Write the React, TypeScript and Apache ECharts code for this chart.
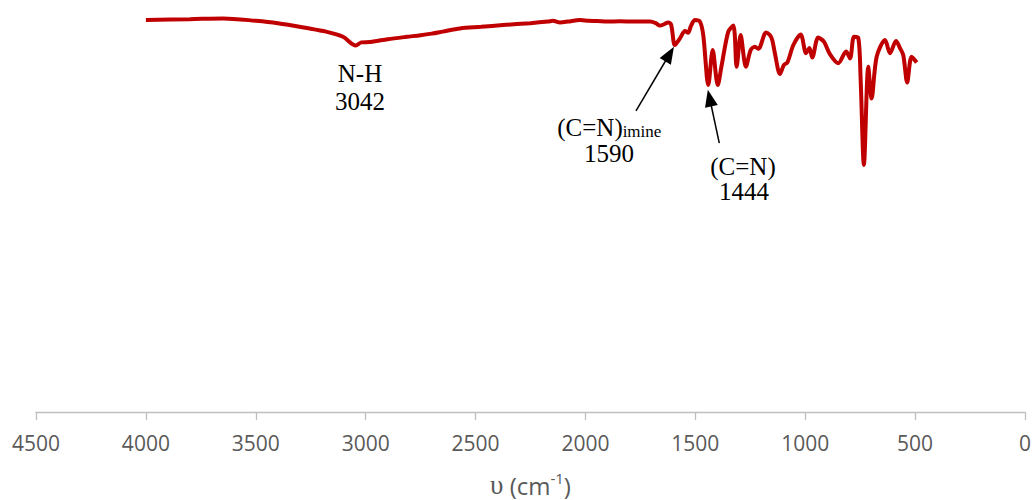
import React, { useEffect, useRef } from "react";
import * as echarts from "echarts";

// Wavenumber (cm-1) and transmittance (arbitrary %)
const wavenumbers = [
  4000, 3800, 3649, 3500, 3400, 3268, 3180, 3103, 3045, 3020, 2980, 2950, 2900, 2813,
  2750, 2700, 2650, 2571, 2475, 2375, 2250, 2170, 2148, 2116, 2080, 2025, 1985, 1947,
  1900, 1843, 1780, 1706, 1680, 1661, 1640, 1624, 1610, 1593, 1570, 1547, 1533, 1520,
  1502, 1479, 1464, 1441, 1421, 1398, 1380, 1350, 1327, 1312, 1294, 1270, 1248, 1229,
  1213, 1178, 1160, 1150, 1138, 1115, 1097, 1081, 1054, 1021, 996, 981, 968, 941, 915,
  887, 850, 814, 796, 778, 758, 748, 733, 713, 698, 675, 637, 614, 587, 569, 554, 536,
  516, 493,
];
const transmittance = [
  98, 98.2, 98.4, 97.8, 97.2, 96, 95.1, 93.8, 91.6, 92.4, 92.5, 92.75, 93.2, 93.8,
  94.2, 94.6, 95.1, 95.9, 96.3, 96.75, 97.2, 97.6, 97.8, 97.4, 97.6, 98, 97.8, 97.75,
  97.6, 97.7, 97.6, 97.6, 97.2, 96.6, 97, 97.4, 96.8, 91.75, 93.4, 95.25, 94.8, 96.5,
  98, 97.6, 94.25, 81.75, 90.5, 81.75, 86.75, 95.1, 96.6, 86.3, 94.25, 86.3, 90.5, 91.3,
  90.8, 94.9, 94.2, 93, 89.7, 84.5, 86.75, 87.4, 91.75, 94.4, 89.7, 91, 88.6, 93.6, 92.6,
  89.4, 87.2, 90.1, 88.4, 93.8, 93.4, 83.4, 61.75, 86.3, 78.4, 88.8, 93, 89.7, 92.75, 91,
  89.25, 82.4, 88.8, 87.4,
];

// x-axis ticks
const xMin = 0;
const xMax = 4500;
const xInterval = 500;

// Arrow annotations: [start, end] in data coordinates
const arrowStarts = [
  [1770, 75.3],
  [1391, 67.2],
];
const arrowEnds = [
  [1617, 89.5],
  [1435, 78.5],
];

// Annotation texts
const annotationTexts = ["N-H", "3042", "(C=N)", "imine", "1590", "(C=N)", "1444"];

export default function App() {
  const ref = useRef<HTMLDivElement>(null);

  useEffect(() => {
    document.body.style.margin = "0";
    if (!ref.current) return;
    const chart = echarts.init(ref.current, undefined, { renderer: "svg" });

    const seriesData = wavenumbers.map((w, i) => [w, transmittance[i]]);
    const arrows = arrowStarts.map((s, i) => [
      { coord: s },
      { coord: arrowEnds[i] },
    ]);

    const serif = "'Liberation Serif', 'DejaVu Serif', serif";
    const mkText = (text: string, x: number, y: number, size = 25) => ({
      type: "text",
      x,
      y,
      silent: true,
      style: {
        text,
        fill: "#000",
        fontSize: size,
        fontFamily: serif,
        align: "center",
        verticalAlign: "middle",
      },
    });

    chart.setOption({
      animation: false,
      grid: {
        left: 36,
        right: 10,
        top: 12,
        bottom: 88,
        containLabel: false,
        outerBoundsMode: "none",
      },
      xAxis: {
        type: "value",
        min: xMin,
        max: xMax,
        interval: xInterval,
        inverse: true,
        axisLine: { show: true, lineStyle: { color: "#BFBFBF", width: 1.3 } },
        axisTick: { show: true, length: 8, lineStyle: { color: "#BFBFBF", width: 1.3 } },
        splitLine: { show: false },
        axisLabel: {
          color: "#595959",
          fontSize: 21,
          fontFamily: "'Open Sans', sans-serif",
          margin: 20,
          formatter: (v: number) => String(v),
        },
        name: "{u|υ}{a| (cm}{s|-1}{a|)}",
        nameLocation: "middle",
        nameGap: 58,
        nameTextStyle: {
          rich: {
            u: {
              fontSize: 27,
              color: "#595959",
              fontFamily: "'Liberation Serif', serif",
              lineHeight: 30,
            },
            a: {
              fontSize: 24,
              color: "#595959",
              fontFamily: "'Open Sans', sans-serif",
              lineHeight: 30,
            },
            s: {
              fontSize: 15,
              color: "#595959",
              fontFamily: "'Open Sans', sans-serif",
              lineHeight: 18,
              verticalAlign: "top",
            },
          },
        },
      },
      yAxis: {
        type: "value",
        min: 0,
        max: 100,
        show: false,
        splitLine: { show: false },
      },
      series: [
        {
          type: "line",
          data: seriesData,
          showSymbol: false,
          smooth: 0.3,
          lineStyle: { color: "#C00000", width: 4 },
          itemStyle: { color: "#C00000" },
          markLine: {
            silent: true,
            animation: false,
            symbol: ["none", "triangle"],
            symbolSize: [13, 17],
            label: { show: false },
            lineStyle: { color: "#000", width: 1.5, type: "solid" },
            itemStyle: { color: "#000" },
            data: arrows,
          },
        },
      ],
      graphic: [
        mkText(annotationTexts[0], 360, 73),
        mkText(annotationTexts[1], 360, 101),
        mkText(annotationTexts[2], 590, 127),
        mkText(annotationTexts[3], 642, 131, 17),
        mkText(annotationTexts[4], 609, 153),
        mkText(annotationTexts[5], 743, 166),
        mkText(annotationTexts[6], 744, 191),
      ],
    });

    return () => chart.dispose();
  }, []);

  return <div ref={ref} style={{ width: 1035, height: 500 }} />;
}
